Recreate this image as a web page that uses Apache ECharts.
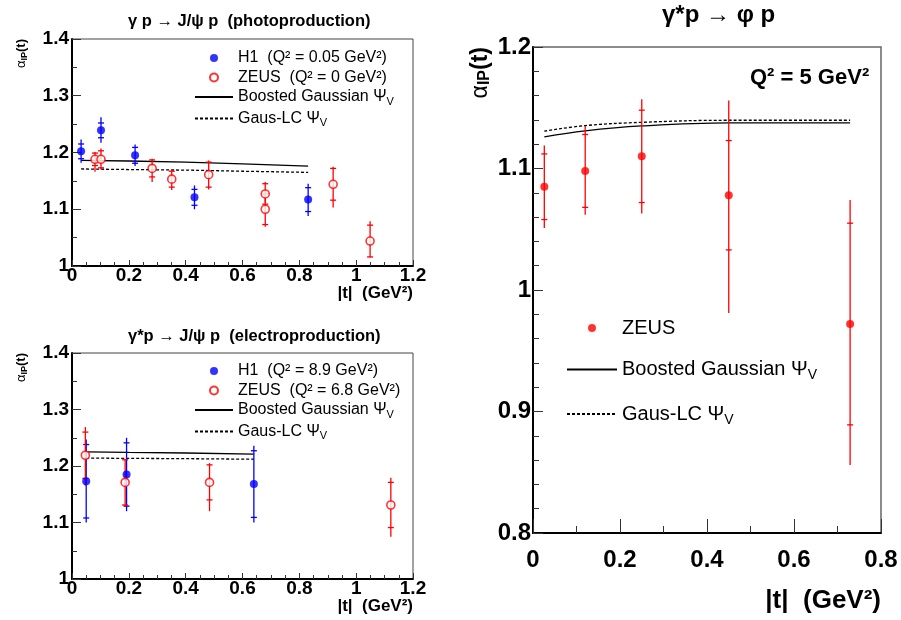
<!DOCTYPE html>
<html><head><meta charset="utf-8">
<script src="https://cdn.jsdelivr.net/npm/echarts@6/dist/echarts.min.js"></script>
<style>html,body{margin:0;padding:0;background:#fff}#c{width:901px;height:620px}</style>
</head><body><div id="c"></div>
<script>
// ---------- Panel A: gamma p -> J/psi p (photoproduction) ----------
const tA_H1   = [0.032, 0.102, 0.222, 0.431, 0.831];
const aA_H1   = [1.202, 1.239, 1.195, 1.121, 1.117];
const hiA_H1  = [0.021, 0.023, 0.019, 0.021, 0.028];
const loA_H1  = [0.020, 0.022, 0.019, 0.021, 0.029];
const stA_H1  = [0.013, 0.013, 0.014, 0.014, 0.021];
const tA_ZEUS  = [0.081, 0.102, 0.282, 0.351, 0.481, 0.680, 0.680, 0.919, 1.049];
const aA_ZEUS  = [1.188, 1.188, 1.172, 1.153, 1.161, 1.127, 1.100, 1.144, 1.044];
const hiA_ZEUS = [0.013, 0.019, 0.017, 0.016, 0.025, 0.021, 0.020, 0.031, 0.035];
const loA_ZEUS = [0.022, 0.018, 0.024, 0.019, 0.026, 0.015, 0.031, 0.041, 0.029];
const stA_ZEUS = [0.011, 0.015, 0.015, 0.014, 0.022, 0.018, 0.027, 0.028, 0.028];
const tA_curve = [0.032, 0.2, 0.4, 0.6, 0.831];
const bgA      = [1.186, 1.185, 1.183, 1.180, 1.176];
const lcA      = [1.171, 1.170, 1.169, 1.167, 1.165];

// ---------- Panel B: gamma* p -> J/psi p (electroproduction) ----------
const tB_H1   = [0.050, 0.192, 0.640];
const aB_H1   = [1.173, 1.185, 1.168];
const hiB_H1  = [0.074, 0.065, 0.068];
const loB_H1  = [0.073, 0.065, 0.068];
const stB_H1  = [0.065, 0.056, 0.059];
const tB_ZEUS  = [0.047, 0.187, 0.484, 1.122];
const aB_ZEUS  = [1.219, 1.171, 1.171, 1.131];
const hiB_ZEUS = [0.050, 0.041, 0.034, 0.048];
const loB_ZEUS = [0.054, 0.043, 0.051, 0.056];
const stB_ZEUS = [0.041, 0.040, 0.031, 0.040];
const tB_curve = [0.05, 0.2, 0.4, 0.64];
const bgB      = [1.225, 1.224, 1.223, 1.221];
const lcB      = [1.214, 1.2135, 1.213, 1.212];

// ---------- Panel C: gamma* p -> phi p ----------
const tC_ZEUS  = [0.026, 0.12, 0.25, 0.45, 0.729];
const aC_ZEUS  = [1.085, 1.098, 1.110, 1.078, 0.972];
const hiC_ZEUS = [0.034, 0.037, 0.047, 0.078, 0.102];
const loC_ZEUS = [0.034, 0.036, 0.047, 0.097, 0.116];
const stC_ZEUS = [0.027, 0.030, 0.038, 0.045, 0.083];
const tC_curve = [0.026, 0.12, 0.25, 0.45, 0.729];
const bgC      = [1.126, 1.131, 1.135, 1.1375, 1.1375];
const lcC      = [1.1307, 1.1353, 1.138, 1.1397, 1.1397];

// ---------- Names / ticks ----------
const nameBG = 'Boosted Gaussian ΨV';
const nameLC = 'Gaus-LC ΨV';
const nameA_H1 = 'H1  (Q² = 0.05 GeV²)';
const nameA_ZEUS = 'ZEUS  (Q² = 0 GeV²)';
const nameB_H1 = 'H1  (Q² = 8.9 GeV²)';
const nameB_ZEUS = 'ZEUS  (Q² = 6.8 GeV²)';
const nameC_ZEUS = 'ZEUS';
const xTicksAB = [0, 1.2, 0.2];   // min, max, step
const yTicksAB = [1.0, 1.4, 0.1];
const xTicksC  = [0, 0.8, 0.2];
const yTicksC  = [0.8, 1.2, 0.1];

const F = "'Liberation Sans', Arial, Helvetica, sans-serif";
const BLUE = '#0000ff', RED = '#ff0000';

function zip(...arrs) { return arrs[0].map((_, i) => arrs.map(a => a[i])); }

function errRender(params, api) {
  const x = api.value(0), y = api.value(1), hi = api.value(2), lo = api.value(3), st = api.value(4);
  const pT = api.coord([x, y + hi]), pB = api.coord([x, y - lo]);
  const sT = api.coord([x, y + st]), sB = api.coord([x, y - st]);
  const color = api.visual('color');
  const style = { stroke: color, lineWidth: 1.3 };
  return { type: 'group', children: [
    { type: 'line', shape: { x1: pT[0], y1: pT[1], x2: pB[0], y2: pB[1] }, style },
    { type: 'line', shape: { x1: sT[0] - 3, y1: sT[1], x2: sT[0] + 3, y2: sT[1] }, style },
    { type: 'line', shape: { x1: sB[0] - 3, y1: sB[1], x2: sB[0] + 3, y2: sB[1] }, style }
  ]};
}

function xAxis(gi, ticks, minorSplit, fs, margin, tl, ml, nfs, npad) {
  return {
    type: 'value', gridIndex: gi, min: ticks[0], max: ticks[1], interval: ticks[2],
    axisLine: { show: true, onZero: false, lineStyle: { color: '#000', width: 2 } },
    axisTick: { show: true, inside: true, length: tl, lineStyle: { color: '#333', width: 1 } },
    minorTick: { show: true, splitNumber: minorSplit, length: ml, lineStyle: { color: '#333', width: 1 } },
    splitLine: { show: false }, minorSplitLine: { show: false },
    axisLabel: { fontFamily: F, fontWeight: 'bold', fontSize: fs, color: '#000', margin, showMinLabel: true, showMaxLabel: true },
    name: '|t|  (GeV²)', nameLocation: 'end', nameGap: 0, nameMoveOverlap: false,
    nameTextStyle: { fontFamily: F, fontWeight: 'bold', fontSize: nfs, color: '#000', align: 'right', verticalAlign: 'top', padding: [npad, 0, 0, 0] }
  };
}
function yAxis(gi, ticks, minorSplit, fs, margin, tl, ml, nfs, npad) {
  return {
    type: 'value', gridIndex: gi, min: ticks[0], max: ticks[1], interval: ticks[2],
    axisLine: { show: true, onZero: false, lineStyle: { color: '#000', width: 2 } },
    axisTick: { show: true, inside: true, length: tl, lineStyle: { color: '#333', width: 1 } },
    minorTick: { show: true, splitNumber: minorSplit, length: ml, lineStyle: { color: '#333', width: 1 } },
    splitLine: { show: false }, minorSplitLine: { show: false },
    axisLabel: { fontFamily: F, fontWeight: 'bold', fontSize: fs, color: '#000', margin, showMinLabel: true, showMaxLabel: true },
    name: '{a|α}{s|IP}{b|(t)}', nameLocation: 'end', nameGap: 0, nameRotate: 90, nameMoveOverlap: false,
    nameTextStyle: {
      color: '#000', align: 'right', verticalAlign: 'bottom', padding: [0, 0, npad, 0],
      rich: {
        a: { fontFamily: F, fontSize: nfs, color: '#000', lineHeight: nfs * 1.1 },
        s: { fontFamily: F, fontWeight: 'bold', fontSize: Math.round(nfs * 0.7), color: '#000', verticalAlign: 'bottom', lineHeight: nfs * 0.7 },
        b: { fontFamily: F, fontWeight: 'bold', fontSize: nfs, color: '#000', lineHeight: nfs * 1.1 }
      }
    }
  };
}

function legendRich(fs, lh) {
  return {
    n: { fontFamily: F, fontSize: fs, color: '#000', lineHeight: lh },
    sub: { fontFamily: F, fontSize: Math.round(fs * 0.68), color: '#000', verticalAlign: 'bottom', lineHeight: Math.round(fs * 0.62) }
  };
}
function legendFmt(name) {
  if (name.endsWith('ΨV')) return '{n|' + name.slice(0, -1) + '}{sub|V}';
  return '{n|' + name + '}';
}
// legend entry for a curve: line only, no marker
function curveEntry(name) { return { name, itemStyle: { opacity: 0 } }; }

function pointSeries(name, xi, t, a, color, open) {
  return {
    type: 'scatter', name, xAxisIndex: xi, yAxisIndex: xi, z: 4,
    symbol: 'circle', symbolSize: 8,
    itemStyle: open ? { color: '#fff', borderColor: color, borderWidth: 1.6 } : { color },
    data: zip(t, a)
  };
}
function errSeries(name, xi, t, a, hi, lo, st, color) {
  return {
    type: 'custom', name, xAxisIndex: xi, yAxisIndex: xi, z: 3,
    itemStyle: { color }, renderItem: errRender,
    encode: { x: 0, y: 1 },
    data: zip(t, a, hi, lo, st)
  };
}
function curveSeries(name, xi, t, v, dashed, smooth) {
  return {
    type: 'line', name, xAxisIndex: xi, yAxisIndex: xi, z: 2,
    symbol: 'none', smooth: smooth ? 0.4 : false,
    lineStyle: { color: '#000', width: 1.3, type: dashed ? [3, 2] : 'solid' },
    itemStyle: { color: '#000', opacity: 0 },
    data: zip(t, v)
  };
}

const titleRich = (fs) => ({
  g: { fontFamily: F, fontSize: fs, color: '#000' },
  b: { fontFamily: F, fontSize: fs, fontWeight: 'bold', color: '#000' }
});

const option = {
  backgroundColor: '#fff',
  animation: false,
  title: [
    { left: 128, top: 13, padding: 0, text: '{g|γ}{b| p }{g|→}{b| J/}{g|ψ}{b| p  (photoproduction)}', textStyle: { rich: titleRich(16.5) } },
    { left: 128, top: 328, padding: 0, text: '{g|γ}{b|*p }{g|→}{b| J/}{g|ψ}{b| p  (electroproduction)}', textStyle: { rich: titleRich(16.5) } },
    { left: 662, top: 3, padding: 0, text: '{g|γ}{b|*p }{g|→}{b| }{g|φ}{b| p}', textStyle: { rich: titleRich(24) } },
    { left: 750, top: 67, padding: 0, text: 'Q² = 5 GeV²', textStyle: { fontFamily: F, fontWeight: 'bold', fontSize: 22, color: '#000' } }
  ],
  grid: [
    { left: 72, top: 39, width: 341, height: 227, show: true, borderColor: '#444', borderWidth: 1, backgroundColor: 'transparent', outerBoundsMode: 'none' },
    { left: 72, top: 353, width: 341, height: 226, show: true, borderColor: '#444', borderWidth: 1, backgroundColor: 'transparent', outerBoundsMode: 'none' },
    { left: 533, top: 47, width: 348, height: 486, show: true, borderColor: '#666', borderWidth: 1.5, backgroundColor: 'transparent', outerBoundsMode: 'none' }
  ],
  xAxis: [
    xAxis(0, xTicksAB, 4, 19, 0, 6, 4, 17, 19),
    xAxis(1, xTicksAB, 4, 19, 0, 6, 4, 17, 19),
    xAxis(2, xTicksC, 2, 24, 15, 14, 7, 26, 55)
  ],
  yAxis: [
    yAxis(0, yTicksAB, 2, 19, 3, 9, 5, 13, 43),
    yAxis(1, yTicksAB, 2, 19, 3, 9, 5, 13, 43),
    yAxis(2, yTicksC, 5, 24, 2, 10, 6, 23, 40)
  ],
  legend: [
    { left: 194, top: 50, orient: 'vertical', padding: 0, itemGap: 3.5, itemWidth: 38, itemHeight: 8,
      data: [nameA_H1, nameA_ZEUS, curveEntry(nameBG), curveEntry(nameLC)], formatter: legendFmt,
      textStyle: { rich: legendRich(16, 20) }, selectedMode: false },
    { left: 194, top: 363, orient: 'vertical', padding: 0, itemGap: 3.5, itemWidth: 38, itemHeight: 8,
      data: [nameB_H1, nameB_ZEUS, curveEntry(nameBG), curveEntry(nameLC)], formatter: legendFmt,
      textStyle: { rich: legendRich(16, 20) }, selectedMode: false },
    { left: 566, top: 318, orient: 'vertical', padding: 0, itemGap: 21.5, itemWidth: 50, itemHeight: 8,
      data: [nameC_ZEUS, curveEntry(nameBG), curveEntry(nameLC)], formatter: legendFmt,
      textStyle: { rich: legendRich(20, 26) }, selectedMode: false }
  ],
  series: [
    curveSeries(nameBG, 0, tA_curve, bgA, false, false),
    curveSeries(nameLC, 0, tA_curve, lcA, true, false),
    errSeries('H1 photoproduction errors', 0, tA_H1, aA_H1, hiA_H1, loA_H1, stA_H1, BLUE),
    errSeries('ZEUS photoproduction errors', 0, tA_ZEUS, aA_ZEUS, hiA_ZEUS, loA_ZEUS, stA_ZEUS, RED),
    pointSeries(nameA_H1, 0, tA_H1, aA_H1, BLUE, false),
    pointSeries(nameA_ZEUS, 0, tA_ZEUS, aA_ZEUS, RED, true),

    curveSeries(nameBG, 1, tB_curve, bgB, false, false),
    curveSeries(nameLC, 1, tB_curve, lcB, true, false),
    errSeries('H1 electroproduction errors', 1, tB_H1, aB_H1, hiB_H1, loB_H1, stB_H1, BLUE),
    errSeries('ZEUS electroproduction errors', 1, tB_ZEUS, aB_ZEUS, hiB_ZEUS, loB_ZEUS, stB_ZEUS, RED),
    pointSeries(nameB_H1, 1, tB_H1, aB_H1, BLUE, false),
    pointSeries(nameB_ZEUS, 1, tB_ZEUS, aB_ZEUS, RED, true),

    curveSeries(nameBG, 2, tC_curve, bgC, false, true),
    curveSeries(nameLC, 2, tC_curve, lcC, true, true),
    errSeries('ZEUS phi errors', 2, tC_ZEUS, aC_ZEUS, hiC_ZEUS, loC_ZEUS, stC_ZEUS, RED),
    pointSeries(nameC_ZEUS, 2, tC_ZEUS, aC_ZEUS, RED, false)
  ]
};

const chart = echarts.init(document.getElementById('c'), null, { renderer: 'canvas', width: 901, height: 620 });
chart.setOption(option);
</script>
</body></html>
